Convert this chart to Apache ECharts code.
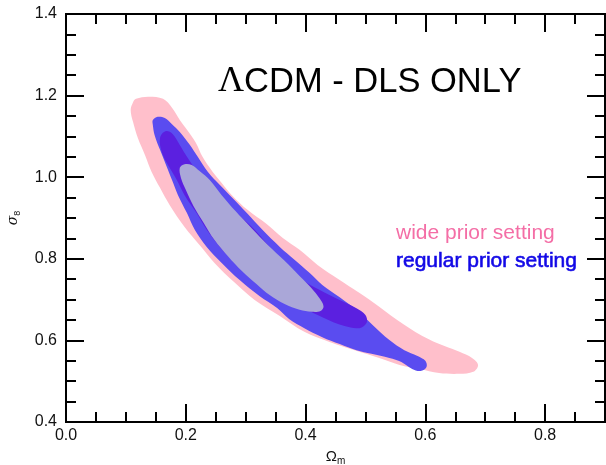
<!DOCTYPE html>
<html>
<head>
<meta charset="utf-8">
<script src="https://cdn.jsdelivr.net/npm/echarts@6/dist/echarts.min.js"></script>
<style>
  html, body { margin: 0; padding: 0; background: #fff; }
  #chart { width: 606px; height: 465px; }
</style>
</head>
<body>
<div id="chart"></div>
<script>
// Confidence regions in the (Omega_m, sigma_8) plane, each as a closed outline.
const wideOuter = [
  [0.117, 1.192], [0.137, 1.197], [0.162, 1.192], [0.177, 1.170], [0.190, 1.140],
  [0.202, 1.116], [0.217, 1.084], [0.228, 1.050], [0.245, 1.013], [0.260, 0.986],
  [0.277, 0.956], [0.303, 0.920], [0.335, 0.885], [0.362, 0.851], [0.390, 0.822],
  [0.420, 0.785], [0.457, 0.748], [0.487, 0.719], [0.512, 0.694], [0.553, 0.650],
  [0.595, 0.611], [0.632, 0.586], [0.657, 0.572], [0.678, 0.557], [0.688, 0.540],
  [0.680, 0.523], [0.657, 0.518], [0.623, 0.520], [0.590, 0.530], [0.557, 0.540],
  [0.523, 0.557], [0.482, 0.576], [0.440, 0.596], [0.398, 0.621], [0.357, 0.660],
  [0.315, 0.699], [0.282, 0.741], [0.248, 0.790], [0.223, 0.834], [0.198, 0.878],
  [0.173, 0.932], [0.157, 0.974], [0.143, 1.013], [0.132, 1.054], [0.120, 1.096],
  [0.112, 1.135], [0.108, 1.165], [0.112, 1.184]
];
const regularOuter = [
  [0.145, 1.140], [0.153, 1.148], [0.165, 1.145], [0.177, 1.130], [0.190, 1.111],
  [0.207, 1.079], [0.220, 1.050], [0.237, 1.013], [0.257, 0.981], [0.278, 0.949],
  [0.302, 0.912], [0.328, 0.871], [0.357, 0.829], [0.382, 0.797], [0.407, 0.765],
  [0.428, 0.736], [0.457, 0.706], [0.485, 0.675], [0.512, 0.638], [0.540, 0.601],
  [0.565, 0.576], [0.587, 0.562], [0.600, 0.550], [0.602, 0.535], [0.592, 0.525],
  [0.578, 0.530], [0.560, 0.547], [0.540, 0.557], [0.510, 0.567], [0.485, 0.576],
  [0.457, 0.591], [0.428, 0.608], [0.398, 0.630], [0.373, 0.652], [0.353, 0.679],
  [0.323, 0.709], [0.290, 0.748], [0.260, 0.790], [0.235, 0.829], [0.215, 0.871],
  [0.202, 0.912], [0.187, 0.956], [0.177, 0.993], [0.167, 1.030], [0.157, 1.067],
  [0.148, 1.103], [0.145, 1.128]
];
const regularInner = [
  [0.160, 1.106], [0.168, 1.113], [0.178, 1.106], [0.190, 1.079], [0.202, 1.050],
  [0.223, 1.005], [0.243, 0.969], [0.285, 0.912], [0.315, 0.871], [0.340, 0.829],
  [0.370, 0.785], [0.395, 0.748], [0.423, 0.724], [0.457, 0.699], [0.485, 0.679],
  [0.500, 0.662], [0.502, 0.643], [0.490, 0.630], [0.465, 0.635], [0.428, 0.657],
  [0.398, 0.679], [0.373, 0.699], [0.340, 0.721], [0.312, 0.748], [0.282, 0.790],
  [0.257, 0.829], [0.235, 0.871], [0.218, 0.912], [0.198, 0.956], [0.185, 0.993],
  [0.173, 1.023], [0.163, 1.050], [0.157, 1.079], [0.157, 1.096]
];
const wideInner = [
  [0.190, 1.023], [0.198, 1.032], [0.210, 1.030], [0.223, 1.015], [0.240, 0.993],
  [0.260, 0.956], [0.283, 0.917], [0.310, 0.875], [0.337, 0.834], [0.365, 0.795],
  [0.390, 0.758], [0.410, 0.728], [0.423, 0.704], [0.430, 0.684], [0.425, 0.672],
  [0.410, 0.670], [0.390, 0.675], [0.365, 0.689], [0.340, 0.711], [0.318, 0.738],
  [0.295, 0.768], [0.270, 0.807], [0.248, 0.846], [0.230, 0.888], [0.213, 0.929],
  [0.200, 0.969], [0.192, 0.998]
];

const xRange = [0, 0.9];
const yRange = [0.4, 1.4];
const xMajorStep = 0.2, yMajorStep = 0.2, minorStep = 0.05;

const titleText = 'CDM - DLS ONLY';
const legendWide = 'wide prior setting';
const legendRegular = 'regular prior setting';

const chart = echarts.init(document.getElementById('chart'), null, { renderer: 'canvas' });

const sansFamily = 'Liberation Sans, Arial, sans-serif';
const labelFont = { fontFamily: sansFamily, fontSize: 16, color: '#111' };

function axisBase(dim, position, step, showLabels, tickLen) {
  const range = dim === 'x' ? xRange : yRange;
  return {
    type: 'value',
    position: position,
    min: range[0],
    max: range[1],
    interval: step,
    axisLine: { show: true, onZero: false, lineStyle: { color: '#000', width: 2 } },
    axisTick: { show: true, inside: true, length: tickLen, lineStyle: { color: '#000', width: 2 } },
    splitLine: { show: false },
    axisLabel: showLabels ? Object.assign({
      show: true,
      margin: dim === 'x' ? 6 : 9,
      showMaxLabel: dim === 'x' ? false : true,
      formatter: v => v.toFixed(1)
    }, labelFont) : { show: false }
  };
}

function regionSeries(name, points, color, z) {
  return {
    type: 'custom',
    name: name,
    xAxisIndex: 0,
    yAxisIndex: 0,
    z: z,
    silent: true,
    data: points,
    renderItem: function (params, api) {
      if (params.dataIndex !== 0) return null;
      const pts = points.map(p => api.coord(p));
      return {
        type: 'polygon',
        shape: { points: pts, smooth: 0.35 },
        style: { fill: color }
      };
    }
  };
}

const xBottom = axisBase('x', 'bottom', xMajorStep, true, 18);
xBottom.name = '{o|Ω}{s|m}';
xBottom.nameLocation = 'middle';
xBottom.nameGap = 18;
xBottom.nameTextStyle = {
  rich: {
    o: { fontFamily: sansFamily, fontSize: 15, color: '#111', lineHeight: 20 },
    s: { fontFamily: sansFamily, fontSize: 10, color: '#111', lineHeight: 10, verticalAlign: 'bottom' }
  }
};

const yLeft = axisBase('y', 'left', yMajorStep, true, 18);
yLeft.name = '{o|σ}{s|8}';
yLeft.nameLocation = 'middle';
yLeft.nameRotate = 90;
yLeft.nameGap = 44;
yLeft.nameTextStyle = {
  rich: {
    o: { fontFamily: 'DejaVu Serif, serif', fontStyle: 'italic', fontSize: 14, color: '#111', lineHeight: 18 },
    s: { fontFamily: sansFamily, fontSize: 9, color: '#111', lineHeight: 9, verticalAlign: 'bottom' }
  }
};

const option = {
  backgroundColor: '#fff',
  animation: false,
  grid: { left: 66, right: 1, top: 14, bottom: 43, containLabel: false, outerBoundsMode: 'none' },
  xAxis: [
    xBottom,
    axisBase('x', 'bottom', minorStep, false, 10),
    axisBase('x', 'top', xMajorStep, false, 18),
    axisBase('x', 'top', minorStep, false, 10)
  ],
  yAxis: [
    yLeft,
    axisBase('y', 'left', minorStep, false, 10),
    axisBase('y', 'right', yMajorStep, false, 18),
    axisBase('y', 'right', minorStep, false, 10)
  ],
  series: [
    regionSeries('wide prior, outer', wideOuter, '#ffbfcb', 1),
    regionSeries('regular prior, outer', regularOuter, '#5a4cf0', 2),
    regionSeries('regular prior, inner', regularInner, '#5b20e0', 3),
    regionSeries('wide prior, inner', wideInner, '#aaa7d8', 4)
  ],
  graphic: [
    {
      type: 'text', x: 218, y: 82, z: 10,
      style: {
        text: '{l|Λ}{t|' + titleText + '}',
        verticalAlign: 'middle',
        rich: {
          l: { fontFamily: 'Liberation Serif, serif', fontSize: 36, fill: '#000' },
          t: { fontFamily: sansFamily, fontSize: 34.5, fill: '#000' }
        }
      }
    },
    {
      type: 'text', x: 396, y: 233, z: 10,
      style: {
        text: legendWide, verticalAlign: 'middle',
        fontFamily: sansFamily, fontSize: 21, fill: '#f46ea6'
      }
    },
    {
      type: 'text', x: 396, y: 261, z: 10,
      style: {
        text: legendRegular, verticalAlign: 'middle',
        fontFamily: sansFamily, fontSize: 21, fill: '#1208e6',
        stroke: '#1208e6', lineWidth: 0.6
      }
    }
  ]
};

chart.setOption(option);
</script>
</body>
</html>
